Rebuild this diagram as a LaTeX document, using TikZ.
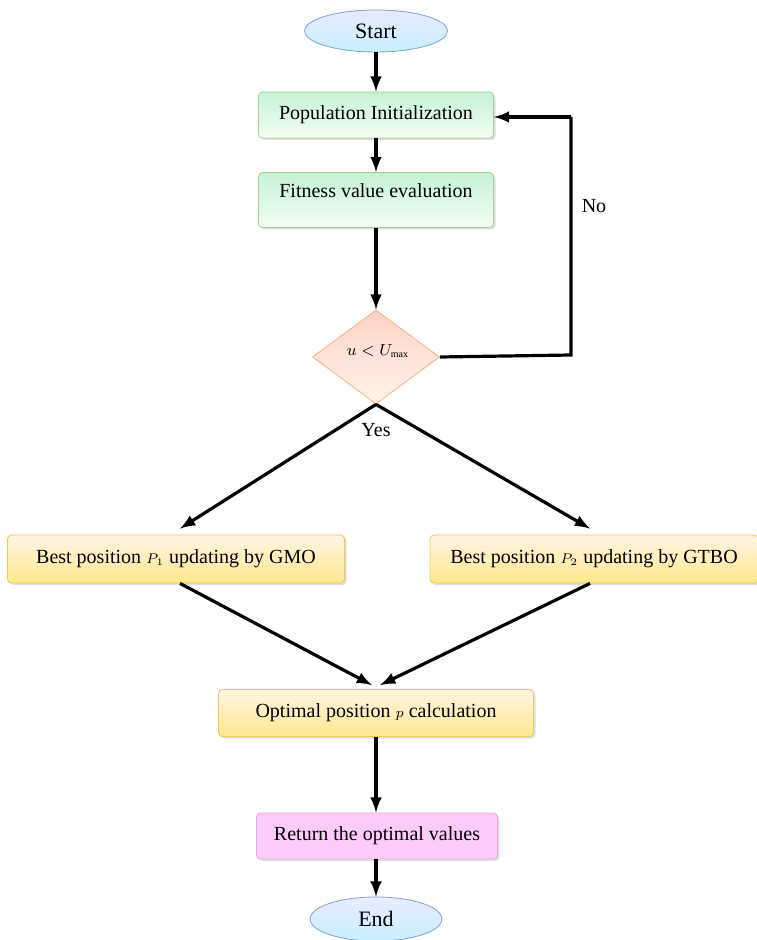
\documentclass[tikz,border=0pt]{standalone}
\usepackage{fontspec}
\setmainfont{Liberation Serif}
\usetikzlibrary{shapes.geometric,shadows}
\definecolor{ovalline}{HTML}{7FA2D0}
\definecolor{greenline}{HTML}{A9D18E}
\definecolor{goldline}{HTML}{F2C45A}
\definecolor{peachline}{HTML}{F4B183}
\definecolor{pinkline}{HTML}{E8A8E8}
\definecolor{pinkfill}{HTML}{FCCBFA}
\begin{document}
\begin{tikzpicture}[x=0.5pt,y=-0.5pt,font=\fontsize{10}{12}\selectfont,
    oval/.style={draw=ovalline,ellipse,top color=blue!8!white,bottom color=blue!28!cyan!22!white,inner sep=0pt},
    greenbox/.style={draw=greenline,rounded corners=2pt,top color=green!50!teal!22!white,bottom color=green!5!white,drop shadow={shadow xshift=1pt,shadow yshift=-1pt,opacity=0.25}},
    goldbox/.style={draw=goldline,rounded corners=2pt,top color=yellow!18!orange!10!white,bottom color=yellow!60!orange!45!white,drop shadow={shadow xshift=1pt,shadow yshift=-1pt,opacity=0.25}},
    pinkbox/.style={draw=pinkline,rounded corners=2pt,fill=pinkfill,drop shadow={shadow xshift=1pt,shadow yshift=-1pt,opacity=0.25}},
    choice/.style={draw=peachline,diamond,top color=orange!38!red!22!white,bottom color=orange!8!white,inner sep=0pt},
    flow/.style={line width=1.6pt,-latex}]
                        \useasboundingbox (0,0) rectangle (756,940);
                        \node[oval,minimum width=71.5pt,minimum height=21pt] (start) at (376,31){\fontsize{11}{13}\selectfont Start};
                        \node[greenbox,minimum width=117.5pt,minimum height=23pt] (init) at (376,115){Population Initialization};
                        \node[greenbox,minimum width=117.5pt,text height=7pt,text depth=9pt,inner ysep=5.75pt] (fit) at (376,200){Fitness value evaluation};
                        \node[choice,minimum width=63.5pt,minimum height=47pt] (dec) at (376,357){};
                        \node (cond) at (378,351){\footnotesize$u<U_{\scriptscriptstyle\max}$};
                        \node[goldbox,minimum width=168.5pt,minimum height=24pt] (gmo) at (176,559){Best position {\scriptsize$P_1$} updating by GMO};
                        \node[goldbox,minimum width=164pt,minimum height=24pt] (gtbo) at (594,559){Best position {\scriptsize$P_2$} updating by GTBO};
                        \node[goldbox,minimum width=157.5pt,minimum height=23.5pt] (opt) at (376,713){Optimal position {\scriptsize$p$} calculation};
                        \node[pinkbox,minimum width=120.5pt,minimum height=23pt] (ret) at (377,836){Return the optimal values};
                        \node[oval,minimum width=66pt,minimum height=22pt] (end) at (376,919){\fontsize{11}{13}\selectfont End};
                        \node (no) at (594,206){No};
                        \node (yes) at (376,430){Yes};
                        \coordinate (loopa) at (571,355);
                        \coordinate (loopb) at (571,117);

                        \draw[flow] (start) -- (init);
                        \draw[flow] (init) -- (fit);
                        \draw[flow] (fit) -- (dec);
                        \draw[flow,-] (dec.east) -- (loopa) -- (loopb);
                        \draw[flow] (loopb) -- (init.east |- loopb);
                        \draw[flow] (dec.south) -- ([xshift=2pt,yshift=3pt]gmo.north);
                        \draw[flow] (dec.south) -- ([xshift=-2pt,yshift=3pt]gtbo.north);
                        \draw[flow] ([xshift=2pt]gmo.south) -- ([xshift=-2pt,yshift=2pt]opt.north);
                        \draw[flow] ([xshift=-2pt]gtbo.south) -- ([xshift=2pt,yshift=2pt]opt.north);
                        \draw[flow] (opt.south) -- (opt.south |- ret.north);
                        \draw[flow] (opt.south |- ret.south) -- (end);
                    \end{tikzpicture}
\end{document}
